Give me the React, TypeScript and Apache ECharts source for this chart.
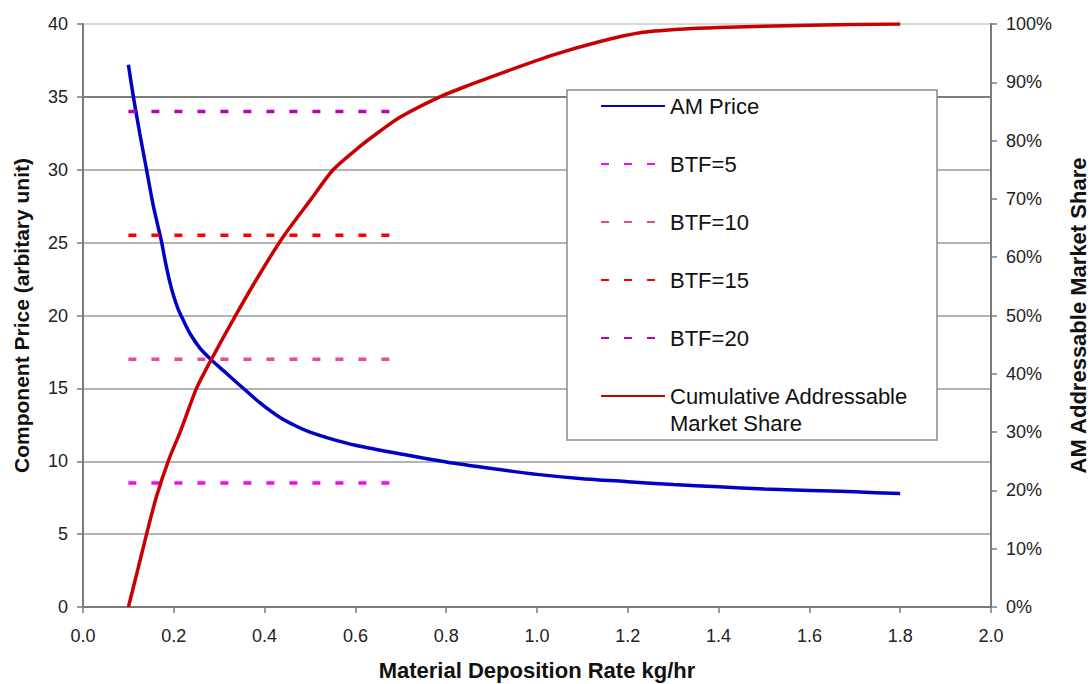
import React, { useEffect, useRef } from "react";
import * as echarts from "echarts";

const FONT = 'Arial, "Liberation Sans", sans-serif';

// AM Price curve (left axis)
const priceX = [0.1, 0.111, 0.125, 0.14, 0.155, 0.172, 0.182, 0.192, 0.2, 0.21, 0.222, 0.236, 0.258, 0.283, 0.31, 0.346, 0.39, 0.434, 0.47, 0.5, 0.55, 0.6, 0.7, 0.8, 0.9, 1.0, 1.1, 1.2, 1.3, 1.4, 1.5, 1.6, 1.7, 1.8];
const priceY = [37.2, 35.0, 32.5, 30.0, 27.5, 25.2, 23.6, 22.2, 21.3, 20.4, 19.6, 18.75, 17.75, 16.95, 16.2, 15.2, 14.0, 13.0, 12.4, 12.0, 11.5, 11.1, 10.5, 9.95, 9.5, 9.1, 8.8, 8.6, 8.4, 8.25, 8.1, 8.0, 7.9, 7.78];

// Cumulative addressable market share (right axis, fraction)
const shareX = [0.1, 0.12, 0.14, 0.162, 0.19, 0.214, 0.25, 0.283, 0.339, 0.39, 0.441, 0.5, 0.551, 0.61, 0.654, 0.698, 0.786, 0.85, 0.919, 1.036, 1.139, 1.227, 1.315, 1.4, 1.6, 1.8];
const shareY = [0, 0.062, 0.125, 0.19, 0.255, 0.30, 0.375, 0.425, 0.504, 0.572, 0.635, 0.697, 0.75, 0.79, 0.816, 0.84, 0.875, 0.895, 0.915, 0.947, 0.97, 0.985, 0.991, 0.994, 0.998, 1.0];

// Break-even lines
const btfX = [0.1, 0.675];
const btfNames = ["BTF=5", "BTF=10", "BTF=15", "BTF=20"];
const btfValues = [8.5, 17, 25.5, 34];
const btfColors = ["#FF00FF", "#EC4899", "#FF0000", "#BB00BB"];

// Axis ticks
const xTicks = { min: 0, max: 2, interval: 0.2 };
const yLeftTicks = { min: 0, max: 40, interval: 5 };
const yRightTicks = { min: 0, max: 1, interval: 0.1 };

const priceName = "AM Price";
const shareName = "Cumulative Addressable Market Share";

export default function App() {
  const ref = useRef<HTMLDivElement>(null);
  useEffect(() => {
    if (!ref.current) return;
    const chart = echarts.init(ref.current, null, { renderer: "svg" });
    const gridColors = ["#a8a8a8", "#b4b4b4", "#b4b4b4", "#b4b4b4", "#b4b4b4", "#b4b4b4", "#b4b4b4", "#7c7c7c", "#d8d8d8"];
    const transparent = "rgba(0,0,0,0)";
    const btfSeries = btfNames.map((n, i) => ({
      name: n,
      type: "line",
      yAxisIndex: 0,
      symbol: "none",
      data: btfX.map((x) => [x, btfValues[i]]),
      lineStyle: { color: btfColors[i], width: 3.5, type: [8, 15] },
      itemStyle: { color: transparent, borderWidth: 0 },
      z: 3,
    }));
    const option: any = {
      animation: false,
      backgroundColor: "#ffffff",
      textStyle: { fontFamily: FONT },
      grid: { left: 83, top: 24, width: 908, height: 583, containLabel: false, outerBoundsMode: "none" },
      xAxis: {
        type: "value",
        min: xTicks.min,
        max: xTicks.max,
        interval: xTicks.interval,
        name: "Material Deposition Rate kg/hr",
        nameLocation: "middle",
        nameGap: 52,
        nameTextStyle: { fontSize: 22, fontWeight: "bold", color: "#111", fontFamily: FONT },
        axisLine: { show: true, lineStyle: { color: "#7a7a7a", width: 2 } },
        axisTick: { show: true, inside: false, length: 6, lineStyle: { color: "#7a7a7a", width: 1.5 } },
        axisLabel: { fontSize: 18, color: "#222", margin: 20, fontFamily: FONT, formatter: (v: number) => v.toFixed(1) },
        splitLine: { show: false },
      },
      yAxis: [
        {
          type: "value",
          position: "left",
          min: yLeftTicks.min,
          max: yLeftTicks.max,
          interval: yLeftTicks.interval,
          name: "Component Price (arbitary unit)",
          nameLocation: "middle",
          nameGap: 51,
          nameRotate: 90,
          nameTextStyle: { fontSize: 21, fontWeight: "bold", color: "#111", fontFamily: FONT },
          axisLine: { show: true, lineStyle: { color: "#7a7a7a", width: 2 } },
          axisTick: { show: true, inside: false, length: 6, lineStyle: { color: "#7a7a7a", width: 1.5 } },
          axisLabel: { fontSize: 18, color: "#222", margin: 15, fontFamily: FONT },
          splitLine: { show: true, lineStyle: { color: gridColors, width: 2 } },
        },
        {
          type: "value",
          position: "right",
          min: yRightTicks.min,
          max: yRightTicks.max,
          interval: yRightTicks.interval,
          name: "AM Addressable Market Share",
          nameLocation: "middle",
          nameGap: 76,
          nameRotate: 90,
          nameTextStyle: { fontSize: 22, fontWeight: "bold", color: "#111", fontFamily: FONT },
          axisLine: { show: true, lineStyle: { color: "#7a7a7a", width: 2 } },
          axisTick: { show: true, inside: false, length: 6, lineStyle: { color: "#7a7a7a", width: 1.5 } },
          axisLabel: { fontSize: 18, color: "#222", margin: 15, fontFamily: FONT, formatter: (v: number) => Math.round(v * 100) + "%" },
          splitLine: { show: false },
        },
      ],
      legend: [
        {
          orient: "vertical",
          left: 600,
          top: 93,
          padding: 0,
          itemWidth: 64,
          itemHeight: 14,
          itemGap: 32,
          selectedMode: false,
          data: [priceName, ...btfNames],
          itemStyle: { opacity: 0 },
          textStyle: { fontSize: 22, lineHeight: 26, color: "#111", fontFamily: FONT },
          z: 5,
        },
        {
          orient: "vertical",
          left: 600,
          top: 355.5,
          padding: 0,
          itemWidth: 64,
          itemHeight: 14,
          selectedMode: false,
          data: [shareName],
          itemStyle: { opacity: 0 },
          formatter: () => "\nCumulative Addressable\nMarket Share",
          textStyle: { fontSize: 22, lineHeight: 27, color: "#111", fontFamily: FONT },
          z: 5,
        },
      ],
      graphic: [
        {
          type: "rect",
          z: 4,
          shape: { x: 567, y: 90, width: 370, height: 350 },
          style: { fill: "#ffffff", stroke: "#8a8a8a", lineWidth: 1.5 },
          silent: true,
        },
      ],
      series: [
        {
          name: priceName,
          type: "line",
          yAxisIndex: 0,
          symbol: "none",
          smooth: 0.25,
          data: priceX.map((x, i) => [x, priceY[i]]),
          lineStyle: { color: "#0000C8", width: 3.5 },
          itemStyle: { color: transparent, borderWidth: 0 },
          z: 3,
        },
        ...btfSeries,
        {
          name: shareName,
          type: "line",
          yAxisIndex: 1,
          symbol: "none",
          smooth: 0.25,
          data: shareX.map((x, i) => [x, shareY[i]]),
          lineStyle: { color: "#C80000", width: 3.5 },
          itemStyle: { color: transparent, borderWidth: 0 },
          z: 3,
        },
      ],
    };
    chart.setOption(option);
    return () => chart.dispose();
  }, []);
  return (
    <div
      ref={ref}
      style={{ position: "fixed", left: 0, top: 0, width: 1090, height: 684, background: "#fff" }}
    />
  );
}
